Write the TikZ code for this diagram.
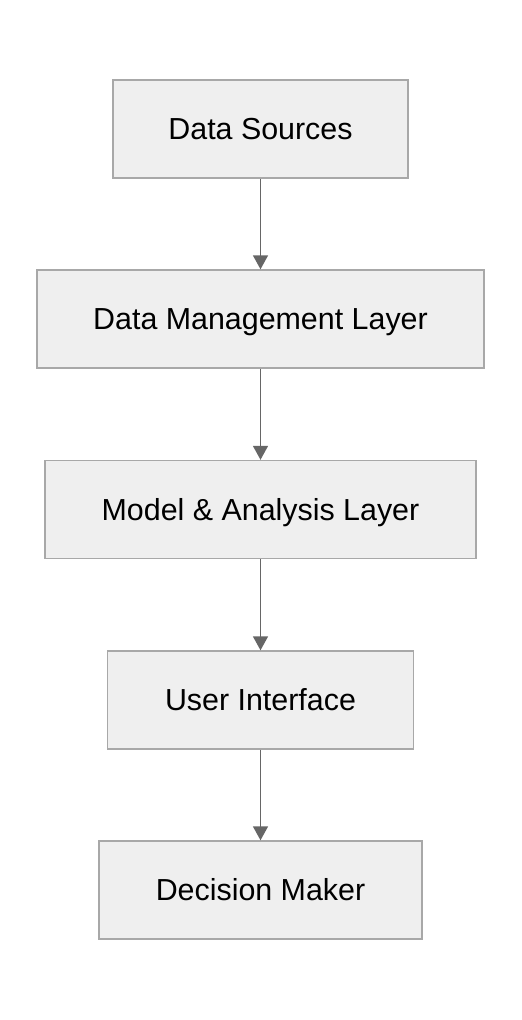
\documentclass[tikz,border=0pt]{standalone}
\usepackage{fontspec}
\setmainfont{Liberation Sans}
\usetikzlibrary{arrows.meta}
\definecolor{boxfill}{HTML}{EFEFEF}
\definecolor{boxline}{HTML}{A8A8A8}
\definecolor{linkline}{HTML}{666666}
\tikzstyle{layer}=[draw=boxline, fill=boxfill, line width=0.7pt, shape=rectangle, minimum height=49pt, inner sep=0pt, text height=10.9pt, text depth=0pt, font=\fontsize{15.2}{18}\selectfont]
\tikzstyle{link}=[draw=linkline, line width=0.75pt, -{Triangle[length=7pt,width=7.5pt]}]

\begin{document}
\begin{tikzpicture}[x=0.5pt,y=-0.5pt]
            \useasboundingbox (0,0) rectangle (522,1020);
            \node[layer, minimum width=147.5pt] (1) at (260.5,129) {Data Sources};
            \node[layer, minimum width=223.5pt] (2) at (260.5,319) {Data Management Layer};
            \node[layer, minimum width=215.5pt] (3) at (260.5,509.5) {Model \& Analysis Layer};
            \node[layer, minimum width=153pt] (4) at (260.5,700) {User Interface};
            \node[layer, minimum width=161.5pt] (5) at (260.5,890) {Decision Maker};
            \draw[link] (1) -- (2);
            \draw[link] (2) -- (3);
            \draw[link] (3) -- (4);
            \draw[link] (4) -- (5);
        \end{tikzpicture}
\end{document}
